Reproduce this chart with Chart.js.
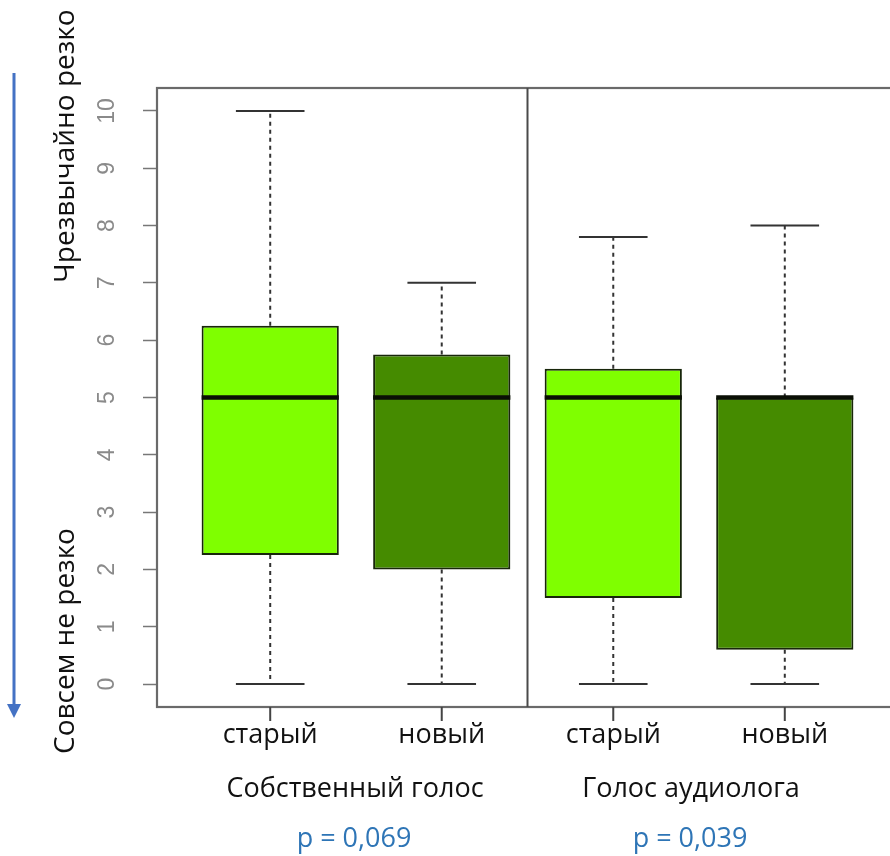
<!DOCTYPE html>
<html><head><meta charset="utf-8">
<script src="https://cdn.jsdelivr.net/npm/chart.js@4.4.1/dist/chart.umd.min.js"></script>
<style>
html,body{margin:0;padding:0;background:#fff;overflow:hidden;width:890px;height:856px;}
#wrap{position:relative;width:890px;height:856px;overflow:hidden;background:#fff;}
canvas{position:absolute;left:0;top:0;}
.lbl{position:absolute;font-family:"Open Sans",sans-serif;font-size:27px;line-height:1;color:#111;white-space:nowrap;transform:translate(-50%,-50%);}
.rot{font-size:28px;transform:translate(-50%,-50%) rotate(-90deg);}
.p{color:#2E75B6;}
svg{position:absolute;left:0;top:0;}
</style></head><body>
<div id="wrap">
<canvas id="c" width="910" height="856"></canvas>
<svg width="40" height="856">
  <line x1="14" y1="73" x2="14" y2="706" stroke="#4472C4" stroke-width="3"/>
  <polygon points="7,704 21,704 14,718" fill="#4472C4"/>
</svg>
<div class="lbl rot" id="topLbl" style="left:63px;top:146px"></div>
<div class="lbl rot" id="botLbl" style="left:63px;top:641px"></div>
<div class="lbl" id="g0" style="left:355px;top:786px"></div>
<div class="lbl" id="g1" style="left:691px;top:786px"></div>
<div class="lbl p" id="p0" style="left:354px;top:836px"></div>
<div class="lbl p" id="p1" style="left:690px;top:836px"></div>
</div>
<script>
// ---- data ----
const categories = ['старый', 'новый', 'старый', 'новый'];
const positions = [1, 2, 3, 4];
const groups = ['Собственный голос', 'Голос аудиолога'];
const pValues = ['p = 0,069', 'p = 0,039'];
const axisTop = 'Чрезвычайно резко';
const axisBottom = 'Совсем не резко';
const whiskerLow = [0, 0, 0, 0];
const q1 = [2.25, 2, 1.5, 0.6];
const median = [5, 5, 5, 5];
const q3 = [6.25, 5.75, 5.5, 5];
const whiskerHigh = [10, 7, 7.8, 8];
const yTicks = [0, 1, 2, 3, 4, 5, 6, 7, 8, 9, 10];
const dividerAt = 2.5;

// ---- styles ----
const fills = ['#7FFF00', '#458B00', '#7FFF00', '#458B00'];
const boxHalf = 0.4, capHalf = 0.2;

document.getElementById('topLbl').textContent = axisTop;
document.getElementById('botLbl').textContent = axisBottom;
document.getElementById('g0').textContent = groups[0];
document.getElementById('g1').textContent = groups[1];
document.getElementById('p0').textContent = pValues[0];
document.getElementById('p1').textContent = pValues[1];

const whiskerPts = [], capPts = [], medPts = [];
positions.forEach((p, i) => {
  whiskerPts.push({x: p, y: q3[i]}, {x: p, y: whiskerHigh[i]}, {x: p, y: null});
  whiskerPts.push({x: p, y: q1[i]}, {x: p, y: whiskerLow[i]}, {x: p, y: null});
  capPts.push({x: p - capHalf, y: whiskerHigh[i]}, {x: p + capHalf, y: whiskerHigh[i]}, {x: p, y: null});
  capPts.push({x: p - capHalf, y: whiskerLow[i]}, {x: p + capHalf, y: whiskerLow[i]}, {x: p, y: null});
  medPts.push({x: p - boxHalf, y: median[i]}, {x: p + boxHalf, y: median[i]}, {x: p, y: null});
});

const framePlugin = {
  id: 'frame',
  afterDraw(chart) {
    const {ctx, chartArea: a, scales: {x, y}} = chart;
    ctx.save();
    ctx.setLineDash([]);
    ctx.strokeStyle = '#6a6a6a';
    ctx.lineWidth = 2.2;
    ctx.strokeRect(a.left, a.top, a.right - a.left, a.bottom - a.top);
    const dx = x.getPixelForValue(dividerAt);
    ctx.strokeStyle = '#4a4a4a';
    ctx.lineWidth = 2;
    ctx.beginPath(); ctx.moveTo(dx, a.top); ctx.lineTo(dx, a.bottom); ctx.stroke();
    // x tick marks at category positions
    ctx.strokeStyle = '#444';
    ctx.lineWidth = 2;
    for (let i = 0; i < positions.length; i++) {
      const px = x.getPixelForValue(positions[i]);
      ctx.beginPath(); ctx.moveTo(px, a.bottom); ctx.lineTo(px, a.bottom + 14); ctx.stroke();
    }
    // rotated y tick labels
    ctx.fillStyle = '#8a8a8a';
    ctx.font = '23px "Liberation Sans", Arial, sans-serif';
    ctx.textAlign = 'center';
    ctx.textBaseline = 'alphabetic';
    yTicks.forEach(v => {
      ctx.save();
      ctx.translate(114, y.getPixelForValue(v));
      ctx.rotate(-Math.PI / 2);
      ctx.fillText(String(v), 0, 0);
      ctx.restore();
    });
    ctx.restore();
  }
};

new Chart(document.getElementById('c'), {
  type: 'bar',
  data: {
    datasets: [
      {type: 'line', data: medPts, borderColor: '#0a0f05', borderWidth: 4.5, pointRadius: 0, spanGaps: false, order: 0},
      {type: 'bar', data: positions.map((p, i) => ({x: p, y: [q1[i], q3[i]]})),
       backgroundColor: fills, borderColor: '#18260a', borderWidth: 2, borderSkipped: false,
       barPercentage: 0.8, categoryPercentage: 1.0, grouped: false, order: 1},
      {type: 'line', data: capPts, borderColor: '#333', borderWidth: 2, pointRadius: 0, spanGaps: false, order: 2},
      {type: 'line', data: whiskerPts, borderColor: '#333', borderWidth: 2, borderDash: [4, 4], pointRadius: 0, spanGaps: false, order: 3}
    ]
  },
  options: {
    responsive: false,
    devicePixelRatio: 1,
    animation: false,
    layout: {padding: {left: 0, top: 88, right: 12, bottom: 99}},
    plugins: {legend: {display: false}, tooltip: {enabled: false}},
    scales: {
      x: {
        type: 'linear', min: 0.34, max: 4.66, offset: false,
        afterBuildTicks: s => { s.ticks = positions.map(v => ({value: v})); },
        afterFit: s => { s.height = 50; },
        ticks: {callback: (v, i) => categories[i], autoSkip: false, maxRotation: 0, minRotation: 0,
                font: {family: 'Open Sans', size: 27}, color: '#111', padding: 12},
        grid: {display: false, drawTicks: false},
        border: {display: false}
      },
      y: {
        type: 'linear', min: -0.4, max: 10.4,
        afterBuildTicks: s => { s.ticks = yTicks.map(v => ({value: v})); },
        afterFit: s => { s.width = 157; },
        ticks: {display: false},
        grid: {display: true, offset: false, drawOnChartArea: false, drawTicks: true, tickLength: 14, tickColor: '#777', tickWidth: 1.5},
        border: {display: false}
      }
    }
  },
  plugins: [framePlugin]
});
</script>
</body></html>
